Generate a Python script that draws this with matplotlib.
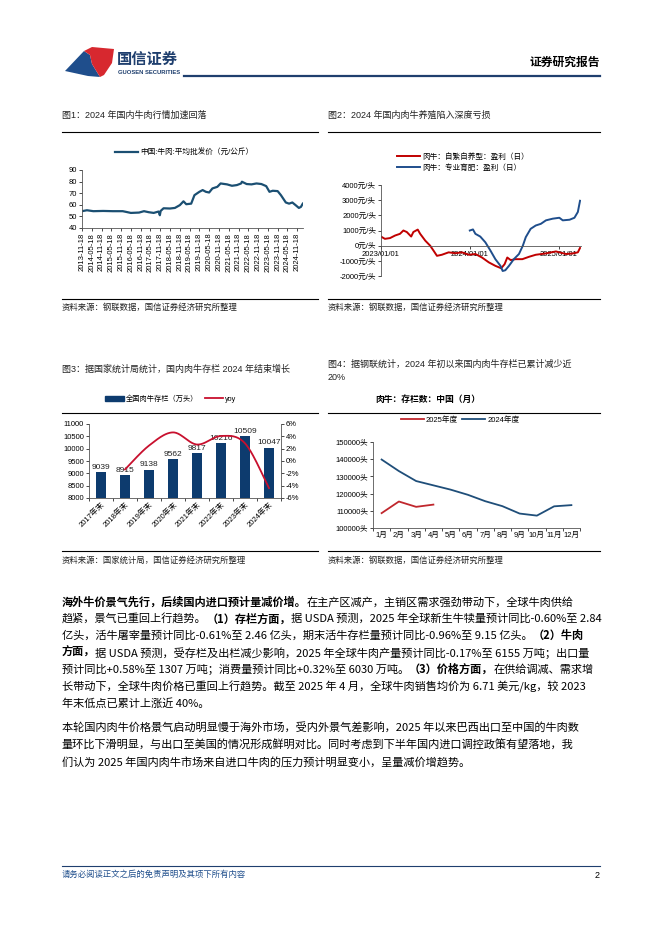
import matplotlib
matplotlib.use('Agg')
import matplotlib.pyplot as plt
from matplotlib.lines import Line2D
from matplotlib.patches import Polygon, Patch
import numpy as np
import pandas as pd

plt.rcParams['font.family'] = ['Liberation Sans', 'Noto Sans CJK SC', 'DejaVu Sans']
plt.rcParams['axes.unicode_minus'] = False

# ---------------- data ----------------
# 图1 牛肉平均批发价（元/公斤）
price_dates = ['2013-11-18', '2014-02-18', '2014-06-18', '2014-12-18', '2015-06-18', '2015-12-18',
               '2016-02-18', '2016-05-18', '2016-10-18', '2017-01-18', '2017-04-18', '2017-07-18',
               '2017-10-18', '2017-11-10', '2017-11-25', '2018-01-18', '2018-05-18', '2018-08-18',
               '2018-11-18', '2019-01-25', '2019-03-18', '2019-06-18', '2019-08-18', '2019-11-18',
               '2020-01-18', '2020-03-18', '2020-05-18', '2020-07-18', '2020-10-18', '2020-12-18',
               '2021-04-18', '2021-07-18', '2021-10-18', '2022-01-05', '2022-01-20', '2022-04-18',
               '2022-07-18', '2022-10-18', '2023-01-18', '2023-04-18', '2023-06-18', '2023-08-18',
               '2023-11-18', '2024-01-18', '2024-04-18', '2024-06-18', '2024-08-18', '2024-10-18',
               '2024-12-18', '2025-01-25', '2025-03-01']
price_vals = [54.5, 55.3, 54.5, 54.7, 54.5, 54.5,
              53.9, 53.0, 53.3, 54.5, 53.6, 53.0,
              54.2, 51.0, 54.7, 57.0, 56.8, 57.3,
              59.7, 63.0, 60.5, 61.0, 68.3, 71.2,
              72.7, 71.2, 70.6, 74.1, 75.5, 78.4,
              77.6, 76.4, 77.0, 78.4, 79.9, 77.9,
              77.6, 78.4, 77.9, 76.1, 71.2, 72.1,
              71.8, 68.3, 62.0, 61.0, 62.0, 59.7,
              57.3, 58.2, 61.0]
price_ticks = ['2013-11-18', '2014-05-18', '2014-11-18', '2015-05-18', '2015-11-18', '2016-05-18',
               '2016-11-18', '2017-05-18', '2017-11-18', '2018-05-18', '2018-11-18', '2019-05-18',
               '2019-11-18', '2020-05-18', '2020-11-18', '2021-05-18', '2021-11-18', '2022-05-18',
               '2022-11-18', '2023-05-18', '2023-11-18', '2024-05-18', '2024-11-18']

# 图2 盈利（元/头）
self_dates = ['2023-01-01', '2023-01-17', '2023-02-07', '2023-02-28', '2023-03-20', '2023-04-03',
              '2023-04-17', '2023-05-05', '2023-05-14', '2023-06-01', '2023-06-11', '2023-07-02',
              '2023-07-22', '2023-08-05', '2023-08-19', '2023-09-08', '2023-10-06', '2023-11-02',
              '2023-11-30', '2023-12-28', '2024-01-24', '2024-02-20', '2024-03-19', '2024-04-15',
              '2024-05-09', '2024-05-23', '2024-06-03', '2024-06-17', '2024-07-07', '2024-08-04',
              '2024-09-01', '2024-09-28', '2024-11-09', '2024-12-20', '2025-01-10', '2025-01-31',
              '2025-02-28', '2025-03-20', '2025-03-29']
self_vals = [600, 450, 500, 670, 780, 1000, 900, 600, 900, 1060,
             780, 330, 0, -330, -670, -600, -440, -500, -440, -600,
             -550, -780, -1100, -1330, -1490, -1220, -780, -950, -890, -890,
             -730, -600, -510, -380, -470, -550, -510, -440, -150]
fat_dates = ['2024-01-01', '2024-01-14', '2024-01-24', '2024-02-13', '2024-03-05', '2024-03-26',
             '2024-04-15', '2024-05-06', '2024-05-15', '2024-05-26', '2024-06-10', '2024-06-30',
             '2024-07-21', '2024-08-06', '2024-08-18', '2024-09-07', '2024-09-28', '2024-10-19',
             '2024-11-09', '2024-12-07', '2025-01-03', '2025-01-17', '2025-02-14', '2025-03-06',
             '2025-03-20', '2025-03-29']
fat_vals = [1000, 1070, 780, 600, 220, -330, -890, -1330, -1670, -1620, -1330, -890,
            -550, 0, 560, 1110, 1330, 1440, 1670, 1780, 1840, 1670, 1710, 1840, 2220, 2960]
profit_ticks = ['2023-01-01', '2024-01-01', '2025-01-01']
profit_ticklabels = ['2023/01/01', '2024/01/01', '2025/01/01']

# 图3 全国肉牛存栏（万头）
stock_years = ['2017年末', '2018年末', '2019年末', '2020年末', '2021年末', '2022年末', '2023年末', '2024年末']
stock_vals = [9039, 8915, 9138, 9562, 9817, 10216, 10509, 10047]
stock_yoy = [-1.37, 2.50, 4.64, 2.67, 4.06, 2.87, -4.40]   # 2018年末 起

# 图4 肉牛存栏数（头）
months = ['1月', '2月', '3月', '4月', '5月', '6月', '7月', '8月', '9月', '10月', '11月', '12月']
herd_2024 = [139800, 133100, 127300, 124800, 122300, 119300, 115600, 112700, 108400, 107200, 112600, 113300]
herd_2025 = [108650, 115400, 112300, 113600]

# ---------------- layout helpers ----------------
W, H = 662, 936
fig = plt.figure(figsize=(W / 100, H / 100), dpi=100)
NAVY = '#1F3F6E'


def fx(x):
    return x / W


def fy(y):
    return 1 - y / H


def add_ax(l, t, r, b):
    return fig.add_axes([fx(l), fy(b), (r - l) / W, (b - t) / H])


def hline(x0, x1, y, color='black', lw=0.8):
    fig.add_artist(Line2D([fx(x0), fx(x1)], [fy(y), fy(y)], color=color, lw=lw))


def ftext(x, y, s, **kw):
    kw.setdefault('va', 'center')
    return fig.text(fx(x), fy(y), s, **kw)


def smooth(xs, ys, n=24):
    # Catmull-Rom curve through the points (like the smoothed line in the source chart)
    p = np.column_stack([xs, ys]).astype(float)
    p = np.vstack([p[0], p, p[-1]])
    t = np.linspace(0, 1, n)[:, None]
    out = []
    for i in range(1, len(p) - 2):
        p0, p1, p2, p3 = p[i - 1], p[i], p[i + 1], p[i + 2]
        out.append(0.5 * (2 * p1 + (-p0 + p2) * t + (2 * p0 - 5 * p1 + 4 * p2 - p3) * t ** 2
                          + (-p0 + 3 * p1 - 3 * p2 + p3) * t ** 3))
    return np.vstack(out)


def style(ax, size=5.5):
    ax.tick_params(labelsize=size, length=2, width=0.5, pad=1.5)
    for s in ax.spines.values():
        s.set_linewidth(0.6)
        s.set_color('#555555')


# ---------------- header ----------------
fig.add_artist(Polygon([(fx(65), fy(71)), (fx(84), fy(51)), (fx(90), fy(55)), (fx(92), fy(64)),
                        (fx(100), fy(77)), (fx(88), fy(76))], closed=True, color='#1F4E8C', lw=0))
fig.add_artist(Polygon([(fx(84), fy(51)), (fx(92), fy(47)), (fx(114), fy(49)), (fx(112), fy(63)),
                        (fx(104), fy(75)), (fx(100), fy(77)), (fx(92), fy(64)), (fx(90), fy(55))],
                       closed=True, color='#D7282F', lw=0))
ftext(117, 59, '国信证券', fontsize=11, fontweight='bold', color=NAVY, family=['Noto Sans CJK SC'])
ftext(118, 72, 'GUOSEN SECURITIES', fontsize=4.2, fontweight='bold', color=NAVY)
ftext(600, 62, '证券研究报告', fontsize=8.5, fontweight='bold', ha='right', family=['Noto Sans CJK SC'])
hline(184, 600, 76, color=NAVY, lw=1.6)

# ---------------- figure titles / frames ----------------
title_kw = dict(fontsize=6.5, color='#222222')
ftext(62, 115, '图1：2024 年国内牛肉行情加速回落', **title_kw)
ftext(328, 115, '图2：2024 年国内肉牛养殖陷入深度亏损', **title_kw)
ftext(62, 369, '图3：据国家统计局统计，国内肉牛存栏 2024 年结束增长', **title_kw)
ftext(328, 364, '图4：据钢联统计，2024 年初以来国内肉牛存栏已累计减少近', **title_kw)
ftext(328, 377, '20%', **title_kw)
for y in (132, 299, 413, 551):
    hline(62, 318, y)
    hline(328, 600, y)
src_kw = dict(fontsize=6, color='#222222')
ftext(62, 308, '资料来源：钢联数据，国信证券经济研究所整理', **src_kw)
ftext(328, 308, '资料来源：钢联数据，国信证券经济研究所整理', **src_kw)
ftext(62, 561, '资料来源：国家统计局，国信证券经济研究所整理', **src_kw)
ftext(328, 561, '资料来源：钢联数据，国信证券经济研究所整理', **src_kw)

# ---------------- chart 1 ----------------
ax1 = add_ax(82, 170, 303, 228)
ax1.plot(pd.to_datetime(price_dates), price_vals, color='#1B4F72', lw=1.6)
ax1.set_ylim(40, 90)
ax1.set_yticks(range(40, 91, 10))
ax1.set_xticks(pd.to_datetime(price_ticks))
ax1.set_xticklabels(price_ticks, rotation=90)
ax1.set_xlim(pd.Timestamp('2013-11-18'), pd.Timestamp('2025-03-05'))
ax1.spines[['top', 'right']].set_visible(False)
style(ax1)
fig.legend(handles=[Line2D([], [], color='#1B4F72', lw=1.6)], labels=['中国:牛肉:平均批发价（元/公斤）'],
           loc='center', bbox_to_anchor=(fx(184), fy(153)), frameon=False, fontsize=5.5,
           handlelength=3, handletextpad=0.3)

# ---------------- chart 2 ----------------
RED = '#C00000'
BLUE = '#1F4E8C'
ax2 = add_ax(381, 185, 581, 276)
ax2.plot(pd.to_datetime(self_dates), self_vals, color=RED, lw=1.4)
ax2.plot(pd.to_datetime(fat_dates), fat_vals, color=BLUE, lw=1.4)
ax2.set_ylim(-2000, 4000)
yt2 = list(range(-2000, 4001, 1000))
ax2.set_yticks(yt2)
ax2.set_yticklabels([f'{v}元/头' for v in yt2])
ax2.set_xticks(pd.to_datetime(profit_ticks))
ax2.set_xticklabels(profit_ticklabels)
ax2.set_xlim(pd.Timestamp('2023-01-01'), pd.Timestamp('2025-04-02'))
ax2.spines[['top', 'right']].set_visible(False)
ax2.spines['bottom'].set_position(('data', 0))
style(ax2)
fig.legend(handles=[Line2D([], [], color=RED, lw=1.4), Line2D([], [], color=BLUE, lw=1.4)],
           labels=['肉牛：自繁自养型：盈利（日）', '肉牛：专业育肥：盈利（日）'],
           loc='upper left', bbox_to_anchor=(fx(393), fy(149)), frameon=False, fontsize=5.5,
           handlelength=3, handletextpad=0.3, labelspacing=0.4, borderpad=0)

# ---------------- chart 3 ----------------
BAR = '#0D3B6E'
x3 = np.arange(len(stock_years))
ax3 = add_ax(89, 424, 281, 498)
ax3.bar(x3, stock_vals, width=0.42, color=BAR)
for xi, v in zip(x3, stock_vals):
    ax3.text(xi, v + 60, str(v), ha='center', va='bottom', fontsize=6, color='#222222')
ax3.set_ylim(8000, 11000)
ax3.set_yticks(range(8000, 11001, 500))
ax3.set_xlim(-0.5, 7.35)
ax3.set_xticks(x3)
ax3.set_xticklabels(stock_years, rotation=45, ha='right', rotation_mode='anchor')
ax3.set_xticks(np.arange(-0.5, 7.6, 1), minor=True)
ax3.spines[['top', 'right']].set_visible(False)
style(ax3)
ax3.tick_params(axis='x', which='major', length=0, pad=2)
ax3.tick_params(axis='x', which='minor', length=2, width=0.5)
ax3b = ax3.twinx()
curve = smooth(x3[1:], stock_yoy)
ax3b.plot(curve[:, 0], curve[:, 1], color='#C8102E', lw=1.3)
ax3b.set_ylim(-6, 6)
yt3 = list(range(-6, 7, 2))
ax3b.set_yticks(yt3)
ax3b.set_yticklabels([f'{v}%' for v in yt3])
ax3b.spines[['top', 'left', 'bottom']].set_visible(False)
style(ax3b)
fig.legend(handles=[Patch(color=BAR), Line2D([], [], color='#C8102E', lw=1.3)],
           labels=['全国肉牛存栏（万头）', 'yoy'], loc='center', bbox_to_anchor=(fx(171), fy(399)),
           ncol=2, frameon=False, fontsize=5.2, handlelength=2.6, handleheight=0.6,
           handletextpad=0.3, columnspacing=0.8)

# ---------------- chart 4 ----------------
x4 = np.arange(len(months))
ax4 = add_ax(373, 442, 580, 528)
ax4.plot(x4[:len(herd_2025)], herd_2025, color='#C0272D', lw=1.3)
ax4.plot(x4, herd_2024, color='#1F4E79', lw=1.3)
ax4.set_ylim(100000, 150000)
yt4 = list(range(100000, 150001, 10000))
ax4.set_yticks(yt4)
ax4.set_yticklabels([f'{v}头' for v in yt4])
ax4.set_xlim(-0.5, 11.5)
ax4.set_xticks(x4)
ax4.set_xticklabels(months)
ax4.set_xticks(np.arange(-0.5, 11.6, 1), minor=True)
ax4.spines[['top', 'right']].set_visible(False)
style(ax4)
ax4.tick_params(axis='x', which='major', length=0, pad=3)
ax4.tick_params(axis='x', which='minor', length=2, width=0.5)
ftext(428, 399, '肉牛：存栏数：中国（月）', fontsize=6.3, fontweight='bold', ha='center',
      family=['Noto Sans CJK SC'])
fig.legend(handles=[Line2D([], [], color='#C0272D', lw=1.3), Line2D([], [], color='#1F4E79', lw=1.3)],
           labels=['2025年度', '2024年度'], loc='center', bbox_to_anchor=(fx(460), fy(420)),
           ncol=2, frameon=False, fontsize=5.5, handlelength=3, handletextpad=0.3, columnspacing=0.5)

# ---------------- body text ----------------
para1 = [
    [('海外牛价景气先行，后续国内进口预计量减价增。', True), ('在主产区减产，主销区需求强劲带动下，全球牛肉供给', False)],
    [('趋紧，景气已重回上行趋势。', False), ('（1）存栏方面，', True), ('据 USDA 预测，2025 年全球新生牛犊量预计同比-0.60%至 2.84', False)],
    [('亿头，活牛屠宰量预计同比-0.61%至 2.46 亿头，期末活牛存栏量预计同比-0.96%至 9.15 亿头。', False), ('（2）牛肉', True)],
    [('方面，', True), ('据 USDA 预测，受存栏及出栏减少影响，2025 年全球牛肉产量预计同比-0.17%至 6155 万吨；出口量', False)],
    [('预计同比+0.58%至 1307 万吨；消费量预计同比+0.32%至 6030 万吨。', False), ('（3）价格方面，', True), ('在供给调减、需求增', False)],
    [('长带动下，全球牛肉价格已重回上行趋势。截至 2025 年 4 月，全球牛肉销售均价为 6.71 美元/kg，较 2023', False)],
    [('年末低点已累计上涨近 40%。', False)],
]
para2 = [
    [('本轮国内肉牛价格景气启动明显慢于海外市场，受内外景气差影响，2025 年以来巴西出口至中国的牛肉数', False)],
    [('量环比下滑明显，与出口至美国的情况形成鲜明对比。同时考虑到下半年国内进口调控政策有望落地，我', False)],
    [('们认为 2025 年国内肉牛市场来自进口牛肉的压力预计明显变小，呈量减价增趋势。', False)],
]

renderer = fig.canvas.get_renderer()


def rich_line(x, y, segs, size=8.05):
    for s, bold in segs:
        t = ftext(x, y, s, fontsize=size, fontweight='bold' if bold else 'normal',
                  family=['Noto Sans CJK SC', 'DejaVu Sans'], color='black')
        x += t.get_window_extent(renderer=renderer).width


for i, segs in enumerate(para1):
    rich_line(62, 602 + i * 16.9, segs)
for i, segs in enumerate(para2):
    rich_line(62, 728 + i * 16.9, segs)

# ---------------- footer ----------------
hline(62, 600, 866, color=NAVY, lw=0.8)
ftext(62, 874, '请务必阅读正文之后的免责声明及其项下所有内容', fontsize=6, style='italic', color='#1F4E8C',
      family=['Noto Sans CJK SC'])
ftext(600, 875, '2', fontsize=6.5, ha='right')

fig.savefig('out.png', dpi=100)
